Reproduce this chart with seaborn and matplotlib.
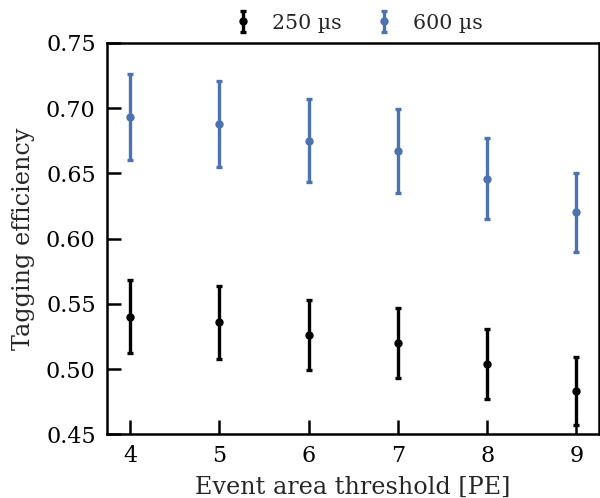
import matplotlib
matplotlib.use("Agg")
import matplotlib.pyplot as plt
import seaborn as sns
import numpy as np

# Event area thresholds [PE]
thresholds = [4, 5, 6, 7, 8, 9]

# Tagging efficiency for the 250 us window
eff_250 = [0.540, 0.536, 0.526, 0.520, 0.504, 0.483]
err_250 = [0.028, 0.028, 0.027, 0.027, 0.027, 0.026]

# Tagging efficiency for the 600 us window
eff_600 = [0.693, 0.688, 0.675, 0.667, 0.646, 0.620]
err_600 = [0.033, 0.033, 0.032, 0.032, 0.031, 0.030]

labels = ["250 µs", "600 µs"]
colors = ["black", sns.color_palette("deep")[0]]

sns.set_theme(style="ticks")
plt.rcParams["font.family"] = ["DejaVu Serif"]
plt.rcParams["mathtext.fontset"] = "dejavuserif"

fig, ax = plt.subplots(figsize=(6.0, 4.98), dpi=100)
fig.subplots_adjust(left=0.178, right=0.998, top=0.914, bottom=0.128)

for eff, err, lab, col in zip([eff_250, eff_600], [err_250, err_600], labels, colors):
    ax.errorbar(thresholds, eff, yerr=err, fmt="o", color=col, ms=5,
                elinewidth=2.4, capsize=2.5, capthick=2.4, label=lab)

ax.set_xlim(3.74, 9.25)
ax.set_ylim(0.45, 0.75)
ax.set_xticks(thresholds)
ax.set_yticks(np.arange(0.45, 0.7501, 0.05))
ax.yaxis.set_major_formatter(matplotlib.ticker.FormatStrFormatter("%.2f"))

ax.set_xlabel("Event area threshold [PE]", fontsize=17.2, labelpad=6)
ax.set_ylabel("Tagging efficiency", fontsize=17.2, labelpad=8)
ax.tick_params(axis="both", direction="in", length=10, width=1.8, labelsize=16, pad=8,
               color="black", labelcolor="black")
for sp in ax.spines.values():
    sp.set_linewidth(1.8)
    sp.set_color("black")

ax.legend(loc="lower center", bbox_to_anchor=(0.51, 1.0), ncol=2, frameon=False,
          fontsize=14.8, handlelength=1.0, handletextpad=0.9, columnspacing=1.6,
          borderaxespad=0.1)

fig.savefig("out.png", dpi=100)
